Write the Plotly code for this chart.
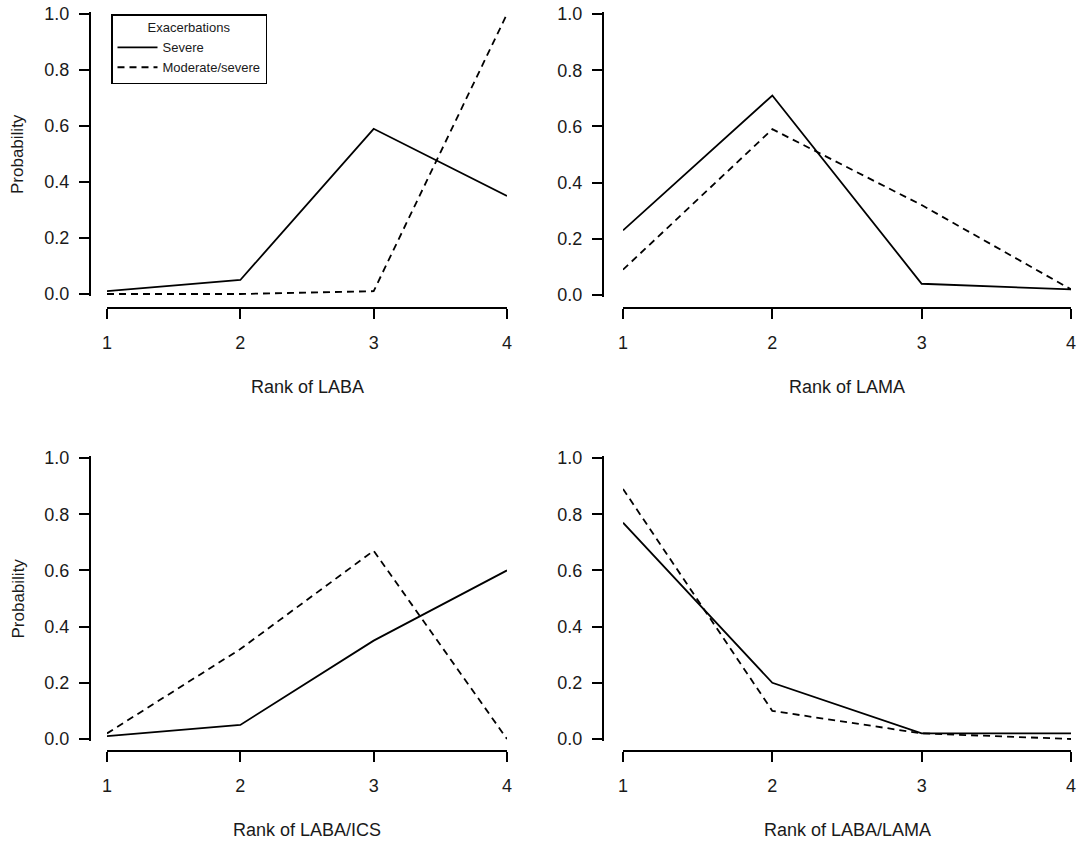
import plotly.graph_objects as go

# ---------------- data ----------------
ranks = [1, 2, 3, 4]
treatments = ["LABA", "LAMA", "LABA/ICS", "LABA/LAMA"]
severe_laba = [0.01, 0.05, 0.59, 0.35]
modsev_laba = [0.00, 0.00, 0.01, 1.00]
severe_lama = [0.23, 0.71, 0.04, 0.02]
modsev_lama = [0.09, 0.59, 0.32, 0.02]
severe_labaics = [0.01, 0.05, 0.35, 0.60]
modsev_labaics = [0.02, 0.32, 0.67, 0.00]
severe_labalama = [0.77, 0.20, 0.02, 0.02]
modsev_labalama = [0.89, 0.10, 0.02, 0.00]
y_ticks = [0.0, 0.2, 0.4, 0.6, 0.8, 1.0]
y_tick_labels = ["0.0", "0.2", "0.4", "0.6", "0.8", "1.0"]
series_names = ["Severe", "Moderate/severe"]
legend_title = "Exacerbations"
y_title = "Probability"

severe = [severe_laba, severe_lama, severe_labaics, severe_labalama]
modsev = [modsev_laba, modsev_lama, modsev_labaics, modsev_labalama]

# ---------------- layout geometry (pixels) ----------------
W, H = 1080, 844
def px(x):
    return x / W
def py(y):
    return 1 - y / H

# (x_left, x_right, y_top(1.0), y_bottom(0.0), yaxis line x, xaxis line y, show y title)
geom = [
    (107, 507, 14, 294, 90, 308, True),
    (623, 1071, 14, 295, 603, 308, False),
    (107, 507, 458, 739, 90, 751, True),
    (623, 1071, 458, 739, 603, 751, False),
]

FONT = "Liberation Sans, Arial, sans-serif"
TXT = "#1a1a1a"

fig = go.Figure()
annotations = []
pad = 2

for i, (name, sev, mod, g) in enumerate(zip(treatments, severe, modsev, geom)):
    x0, x1, yt, yb, yax, xay, showy = g
    n = i + 1
    xa = "x" if n == 1 else f"x{n}"
    ya = "y" if n == 1 else f"y{n}"
    fig.add_trace(go.Scatter(
        x=ranks, y=sev, mode="lines", name=series_names[0],
        line=dict(color="black", width=1.8), xaxis=xa, yaxis=ya,
        showlegend=(n == 1), legendgroup="sev", hoverinfo="skip"))
    fig.add_trace(go.Scatter(
        x=ranks, y=mod, mode="lines", name=series_names[1],
        line=dict(color="black", width=1.8, dash="7px,5px"), xaxis=xa, yaxis=ya,
        showlegend=(n == 1), legendgroup="mod", hoverinfo="skip"))

    span = yb - yt
    xkey = "xaxis" if n == 1 else f"xaxis{n}"
    ykey = "yaxis" if n == 1 else f"yaxis{n}"
    fig.update_layout(**{
        xkey: dict(
            domain=[px(x0), px(x1)], range=[1, 4], anchor="free",
            position=py(xay), tickvals=ranks, ticks="outside", ticklen=10,
            tickwidth=2, tickcolor="black", showline=True, linewidth=2,
            linecolor="black", showgrid=False, zeroline=False,
            tickfont=dict(family=FONT, size=18, color=TXT),
            ticklabelstandoff=8, automargin=False,
            ticklabeloverflow="allow", fixedrange=True),
        ykey: dict(
            domain=[py(yb + pad), py(yt - pad)],
            range=[-pad / span, 1 + pad / span], anchor="free",
            position=px(yax), tickvals=y_ticks, ticktext=y_tick_labels,
            ticks="outside", ticklen=10, tickwidth=2, tickcolor="black",
            showline=True, linewidth=2, linecolor="black", showgrid=False,
            zeroline=False, tickfont=dict(family=FONT, size=18, color=TXT),
            ticklabelstandoff=6, automargin=False,
            ticklabeloverflow="allow", fixedrange=True),
    })
    annotations.append(dict(
        text=f"Rank of {name}", x=px((x0 + x1) / 2), y=py(xay + 79),
        xref="paper", yref="paper", showarrow=False, xanchor="center",
        yanchor="middle", font=dict(family=FONT, size=18, color=TXT)))
    if showy:
        annotations.append(dict(
            text=y_title, x=px(18), y=py((yt + yb) / 2), xref="paper",
            yref="paper", showarrow=False, textangle=-90, xanchor="center",
            yanchor="middle", font=dict(family=FONT, size=17, color=TXT)))

fig.update_layout(
    width=W, height=H,
    margin=dict(l=0, r=0, t=0, b=0, autoexpand=False),
    paper_bgcolor="white", plot_bgcolor="white",
    annotations=annotations,
    showlegend=True,
    hovermode=False,
    legend=dict(
        x=px(111), y=py(14), xanchor="left", yanchor="top",
        bordercolor="black", borderwidth=1.5, bgcolor="white",
        title=dict(text=legend_title, side="top center",
                   font=dict(family=FONT, size=13, color=TXT)),
        font=dict(family=FONT, size=13, color=TXT),
        tracegroupgap=0, itemwidth=40),
)

# remove the browser's default 8px page margin so the figure fills the window
fig.write_html("out.html", config={"displayModeBar": False},
               post_script="document.body.style.margin='0';")
